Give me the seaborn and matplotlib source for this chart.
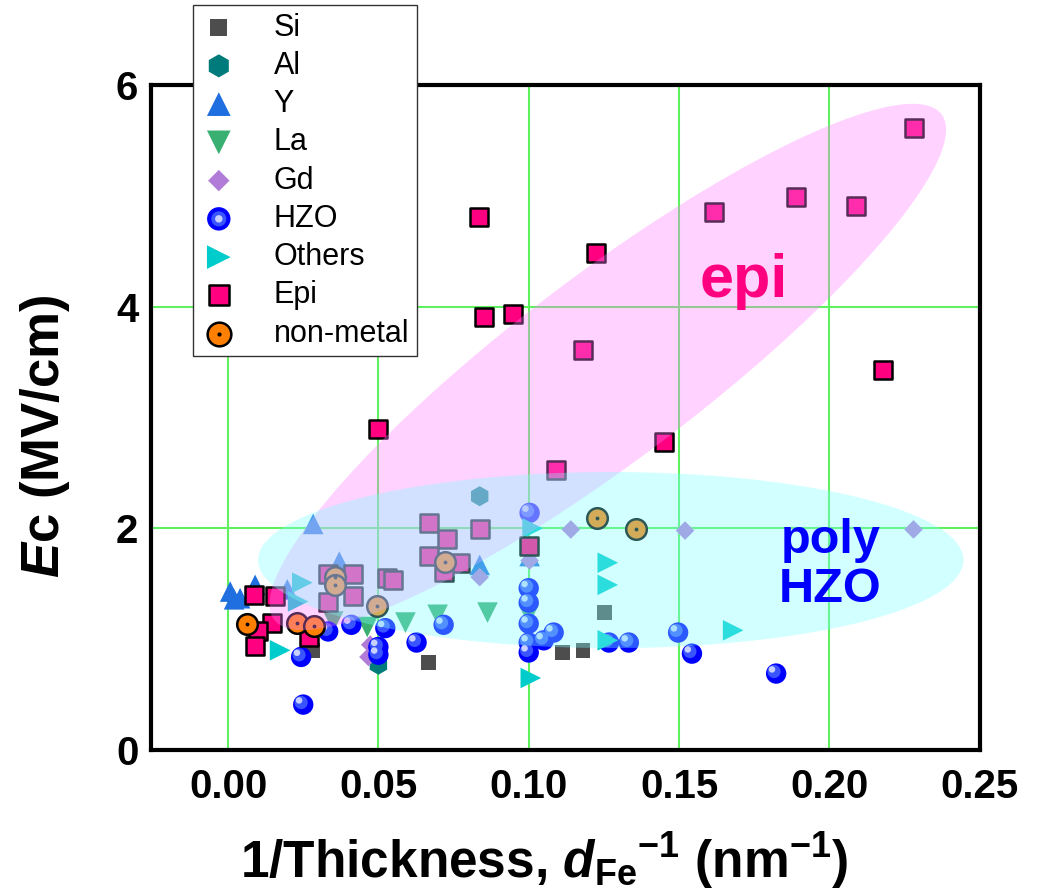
import numpy as np
import pandas as pd
import seaborn as sns
import matplotlib.pyplot as plt
from matplotlib.ticker import MultipleLocator
from matplotlib.transforms import ScaledTranslation
from matplotlib.legend_handler import HandlerTuple

# data: x = 1/thickness (nm^-1), y = Ec (MV/cm)
si_x = [0.028, 0.0667, 0.1113, 0.118, 0.1253]
si_y = [0.90, 0.79, 0.88, 0.90, 1.24]

al_x = [0.0837, 0.05]
al_y = [2.29, 0.77]

y_x = [0.0007, 0.002, 0.004, 0.009, 0.0197, 0.0283, 0.037, 0.0837, 0.1003]
y_y = [1.43, 1.36, 1.37, 1.49, 1.45, 2.04, 1.70, 1.67, 1.75]

la_x = [0.035, 0.0463, 0.059, 0.0697, 0.0863, 0.1]
la_y = [1.16, 1.11, 1.15, 1.22, 1.24, 1.22]

gd_x = [0.0473, 0.0467, 0.0837, 0.1003, 0.114, 0.152, 0.228]
gd_y = [0.95, 0.84, 1.56, 1.71, 1.99, 1.98, 1.99]

hzo_x = [0.0243, 0.025, 0.0333, 0.041, 0.0523, 0.05, 0.05, 0.0627, 0.0717,
         0.1003, 0.1, 0.1, 0.1, 0.1, 0.1, 0.105, 0.1083, 0.1267, 0.1333,
         0.1497, 0.1543, 0.1823]
hzo_y = [0.84, 0.41, 1.07, 1.13, 1.10, 0.93, 0.86, 0.97, 1.13,
         2.14, 1.46, 1.33, 1.14, 0.97, 0.88, 0.99, 1.06, 0.97, 0.97,
         1.06, 0.87, 0.69]

oth_x = [0.0173, 0.0247, 0.0233, 0.1263, 0.1263, 0.1263, 0.1007, 0.1013, 0.168]
oth_y = [0.90, 1.51, 1.34, 1.69, 1.49, 0.99, 0.65, 2.00, 1.08]

epi_x = [0.0833, 0.085, 0.0947, 0.05, 0.1223, 0.218, 0.1, 0.0085, 0.0157,
         0.0147, 0.01, 0.009, 0.027, 0.118, 0.109, 0.145, 0.1617, 0.189,
         0.209, 0.228, 0.0667, 0.0727, 0.0667, 0.0773, 0.0717, 0.0837,
         0.0333, 0.0417, 0.0333, 0.0417, 0.053, 0.0547]
epi_y = [4.81, 3.91, 3.93, 2.90, 4.48, 3.43, 1.84, 1.40, 1.39,
         1.15, 1.07, 0.94, 1.02, 3.61, 2.53, 2.78, 4.85, 4.99,
         4.91, 5.61, 2.05, 1.90, 1.75, 1.69, 1.61, 1.99,
         1.59, 1.59, 1.34, 1.39, 1.55, 1.53]

nm_x = [0.0063, 0.023, 0.0287, 0.0357, 0.0357, 0.0497, 0.072, 0.1227, 0.1357]
nm_y = [1.14, 1.15, 1.12, 1.56, 1.49, 1.30, 1.70, 2.09, 1.99]

sns.set_style('white')
plt.rcParams['font.family'] = ['Liberation Sans', 'DejaVu Sans']
plt.rcParams['font.weight'] = 'bold'
plt.rcParams['text.color'] = 'black'
plt.rcParams['axes.labelcolor'] = 'black'
plt.rcParams['xtick.color'] = 'black'
plt.rcParams['ytick.color'] = 'black'
plt.rcParams['mathtext.fontset'] = 'custom'
plt.rcParams['mathtext.rm'] = 'Liberation Sans:bold'
plt.rcParams['mathtext.bf'] = 'Liberation Sans:bold'
plt.rcParams['mathtext.it'] = 'Liberation Sans:italic:bold'

fig = plt.figure(figsize=(10.4, 8.91), dpi=100)
ax = fig.add_axes([0.145, 0.1582, 0.797, 0.7464])

ax.set_xlim(-0.0257, 0.25)
ax.set_ylim(0, 6)

# grid
for gx in [0.0, 0.05, 0.10, 0.15, 0.20]:
    ax.axvline(gx, color='#5ef05e', lw=1.5, zorder=0.5)
for gy in [2, 4]:
    ax.axhline(gy, color='#5ef05e', lw=1.5, zorder=0.5)

handles = {}
sns.scatterplot(x=si_x, y=si_y, marker='s', color='#4d4d4d', s=110, edgecolor='none', ax=ax, zorder=2)
handles['Si'] = ax.collections[-1]
sns.scatterplot(x=al_x, y=al_y, marker='h', color='#007b7b', s=210, edgecolor='none', ax=ax, zorder=2)
handles['Al'] = ax.collections[-1]
sns.scatterplot(x=y_x, y=y_y, marker='^', color='#1f6fe0', s=220, edgecolor='none', ax=ax, zorder=2)
handles['Y'] = ax.collections[-1]
sns.scatterplot(x=la_x, y=la_y, marker='v', color='#3aaf72', s=220, edgecolor='none', ax=ax, zorder=2)
handles['La'] = ax.collections[-1]
sns.scatterplot(x=gd_x, y=gd_y, marker='D', color='#b07cd8', s=90, edgecolor='none', ax=ax, zorder=2)
handles['Gd'] = ax.collections[-1]

# HZO "spheres": blue disk with offset highlight
sns.scatterplot(x=hzo_x, y=hzo_y, marker='o', color='#0000ff', s=215, edgecolor='none', ax=ax, zorder=2)
h0 = ax.collections[-1]
off1 = ax.transData + ScaledTranslation(-1.5 / 72, 1.5 / 72, fig.dpi_scale_trans)
off2 = ax.transData + ScaledTranslation(-3 / 72, 3 / 72, fig.dpi_scale_trans)
h1 = ax.scatter(hzo_x, hzo_y, s=90, color='#3a55ff', edgecolor='none', transform=off1, zorder=2)
h2 = ax.scatter(hzo_x, hzo_y, s=22, color='#c8d0ff', edgecolor='none', transform=off2, zorder=2)
handles['HZO'] = (h0, h1, h2)

sns.scatterplot(x=oth_x, y=oth_y, marker='>', color='#00cccc', s=220, edgecolor='none', ax=ax, zorder=2)
handles['Others'] = ax.collections[-1]
sns.scatterplot(x=epi_x, y=epi_y, marker='s', color='#ff0080', s=150, edgecolor='black', linewidth=1.8, ax=ax, zorder=2)
handles['Epi'] = ax.collections[-1]
sns.scatterplot(x=nm_x, y=nm_y, marker='o', color='#ff8000', s=220, edgecolor='black', linewidth=1.8, ax=ax, zorder=2)
n0 = ax.collections[-1]
n1 = ax.scatter(nm_x, nm_y, s=3, color='black', zorder=2)
handles['non-metal'] = (n0, n1)


def ellipse_xy(cx, cy, a, b, ang):
    # ellipse built in pixel units, converted to data units (3000 px / unit x, 110.83 px / unit y)
    t = np.linspace(0, 2 * np.pi, 300)
    th = np.deg2rad(ang)
    u, v = a * np.cos(t), b * np.sin(t)
    px = u * np.cos(th) - v * np.sin(th)
    py = u * np.sin(th) + v * np.cos(th)
    return cx + px / 3000, cy + py / 110.83


ex, ey = ellipse_xy(0.1263, 3.456, 418, 92, 37.2)
ax.fill(ex, ey, color='#ff80ff', alpha=0.35, lw=0, zorder=3)
ex, ey = ellipse_xy(0.1273, 1.714, 352, 88, 0)
ax.fill(ex, ey, color='#80ffff', alpha=0.35, lw=0, zorder=3)

ax.text(0.1717, 4.09, 'epi', color='#ff0080', fontsize=44, fontweight='bold',
        ha='center', va='baseline', zorder=4)
ax.text(0.2003, 1.67, 'poly\nHZO', color='#0000ff', fontsize=35, fontweight='bold',
        ha='center', va='center', linespacing=1.12, zorder=4)

ax.set_xticks([0.0, 0.05, 0.10, 0.15, 0.20, 0.25])
ax.set_xticklabels(['0.00', '0.05', '0.10', '0.15', '0.20', '0.25'])
ax.set_yticks([0, 2, 4, 6])
ax.xaxis.set_minor_locator(MultipleLocator(0.025))
ax.yaxis.set_minor_locator(MultipleLocator(1))
ax.tick_params(which='major', direction='in', length=9, width=2.5, labelsize=29, pad=13)
ax.tick_params(axis='y', which='major', pad=9)
ax.tick_params(which='minor', direction='in', length=5, width=2.5)
for sp in ax.spines.values():
    sp.set_linewidth(3)
    sp.set_color('black')

ax.set_xlabel(r'1/Thickness, $\mathit{d}_{\mathrm{Fe}}$$^{\mathrm{-1}}$ (nm$^{\mathrm{-1}}$)',
              fontsize=37, fontweight='bold', va='baseline')
ax.xaxis.set_label_coords(0.475, -0.192)
ax.set_ylabel(r'$\mathit{E}$c (MV/cm)', fontsize=38, fontweight='bold')
ax.yaxis.set_label_coords(-0.095, 0.472)

names = ['Si', 'Al', 'Y', 'La', 'Gd', 'HZO', 'Others', 'Epi', 'non-metal']
leg = ax.legend([handles[k] for k in names], names, loc='upper left',
                bbox_to_anchor=(0.0507, 1.1203), borderaxespad=0, fontsize=22,
                frameon=True, fancybox=False, edgecolor='#333333', framealpha=1,
                handler_map={tuple: HandlerTuple(ndivide=1, pad=0)},
                handlelength=1.2, handletextpad=1.2, labelspacing=0.27,
                borderpad=0.25, scatterpoints=1, markerscale=1.15)
leg.get_frame().set_linewidth(1.0)
leg.set_zorder(10)
for t in leg.get_texts():
    t.set_fontweight('normal')

fig.savefig('out.png', dpi=100)
